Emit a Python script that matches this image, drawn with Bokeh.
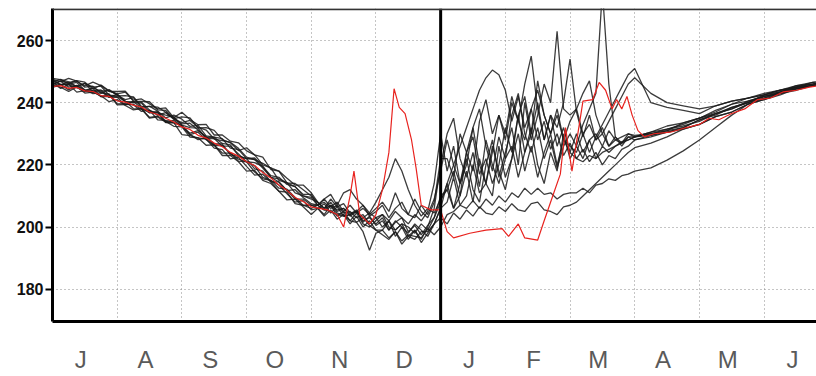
from bokeh.plotting import figure
from bokeh.models import FixedTicker, Span
from bokeh.embed import file_html
from bokeh.resources import INLINE

# ---------------- data (x in months since 1 July) ----------------
MONTH_LABELS = ["J", "A", "S", "O", "N", "D", "J", "F", "M", "A", "M", "J"]
Y_TICKS = [180, 200, 220, 240, 260]

XA = [0.0, 0.125, 0.25, 0.375, 0.5, 0.625, 0.75, 0.875, 1.0, 1.125, 1.25, 1.375,
      1.5, 1.625, 1.75, 1.875, 2.0, 2.125, 2.25, 2.375, 2.5, 2.625, 2.75, 2.875,
      3.0, 3.125, 3.25, 3.375, 3.5, 3.625, 3.75, 3.875, 4.0]
XB = [4.1, 4.2, 4.3, 4.4, 4.5, 4.6, 4.7, 4.8, 4.9, 5.0,
      5.1, 5.2, 5.3, 5.4, 5.5, 5.6, 5.7, 5.8, 5.9, 6.0,
      6.1, 6.2, 6.3, 6.4, 6.5, 6.6, 6.7, 6.8, 6.9, 7.0,
      7.1, 7.2, 7.3, 7.4, 7.5, 7.6, 7.7, 7.8, 7.9, 8.0,
      8.1, 8.2, 8.3, 8.4, 8.5, 8.6, 8.7, 8.8, 8.9, 9.0]
XC = [9.25, 9.5, 9.75, 10.0, 10.25, 10.5, 10.75, 11.0, 11.25, 11.5, 11.75, 12.0]

S1 = [246.0, 246.9, 245.0, 245.5, 243.6, 243.9, 244.1, 241.8, 241.7, 239.3, 240.4, 238.3,
      236.7, 237.1, 233.9, 234.3, 232.5, 230.2, 231.0, 229.1, 226.7, 226.7, 223.2, 222.7,
      222.0, 218.7, 218.0, 214.5, 214.5, 211.7, 209.0, 209.0, 207.0,
      207, 205.5, 207, 204.5, 204, 202, 201.5, 198.5, 192.5, 198,
      199, 196.5, 198.5, 195.5, 197.5, 197, 196.5, 199.5, 197.5, 200,
      204, 205, 207, 206, 208.5, 206, 209, 207, 210, 208,
      211, 209.5, 212.5, 210.5, 212.5, 210.5, 211, 209, 210.5, 211,
      211, 212.5, 211, 213.5, 214, 215.5, 215, 216.5, 217, 218,
      219, 221.5, 224.5, 228, 232, 236, 239.5, 241.5, 243, 244.5, 245.5, 246.5]
S2 = [247.5, 245.8, 246.5, 247.0, 245.0, 245.3, 243.0, 244.2, 242.4, 241.0, 241.6, 238.5,
      238.9, 237.3, 235.1, 236.0, 234.7, 232.4, 232.7, 229.3, 228.9, 228.4, 225.4, 224.9,
      222.0, 222.2, 219.5, 216.5, 216.0, 213.7, 213.0, 210.0, 209.0,
      208, 206, 207, 205.5, 206, 204, 205, 203, 204.5, 203,
      204, 202, 205, 203, 201, 204, 202, 205, 214, 230,
      218, 226, 214, 220, 232, 238, 226, 218, 229, 222,
      236, 243, 230, 224, 232, 222, 228, 219, 226, 230,
      226, 233, 238, 243, 276, 246, 229, 226, 229, 228,
      229, 230.5, 232, 234.5, 236, 238.5, 240, 242.5, 243.5, 245.5, 246, 247]
S3 = [244.9, 245.7, 245.9, 243.4, 243.9, 243.7, 242.0, 242.6, 239.3, 239.4, 239.5, 237.9,
      235.3, 235.7, 234.0, 232.4, 232.2, 228.9, 228.7, 228.3, 225.4, 224.9, 221.9, 222.4,
      219.5, 216.7, 217.0, 214.5, 211.5, 211.2, 207.5, 207.0, 206.0,
      207, 208, 206, 207, 204.5, 205, 203, 204, 201, 203,
      200, 202, 199, 201, 200, 198, 201, 199, 203, 210,
      212, 206, 214, 222, 212, 208, 220, 228, 216, 224,
      232, 220, 240, 228, 236, 246, 240, 263, 238, 236,
      238, 230, 233, 228, 230, 226, 228, 227, 229, 229,
      230, 231, 233.5, 235, 237, 239.5, 240.5, 242, 243.5, 245, 246.5, 247]
S4 = [247.8, 247.4, 246.1, 247.1, 246.6, 244.4, 245.7, 243.8, 242.8, 243.4, 240.5, 240.4,
      240.3, 237.7, 237.5, 234.9, 235.4, 235.1, 231.9, 232.0, 231.1, 228.1, 227.1, 224.6,
      225.5, 223.2, 220.0, 219.0, 218.0, 214.2, 214.0, 212.0, 210.0,
      208, 206, 208, 205, 206, 203.5, 205, 202, 203, 201,
      203, 199, 202, 200, 198, 201, 199, 197, 201, 206,
      208, 216, 207, 210, 220, 211, 214, 226, 218, 212,
      222, 236, 224, 230, 240, 228, 236, 232, 240, 254,
      237, 229, 236, 228, 232, 226, 229, 227, 230, 229,
      230.5, 231.5, 233, 235, 236.5, 238.5, 240, 242, 243, 244.5, 245.5, 246.5]
S5 = [245.7, 247.0, 246.2, 245.2, 246.2, 243.5, 243.8, 243.9, 242.6, 240.2, 240.3, 240.2,
      237.6, 236.0, 236.8, 234.7, 233.2, 233.4, 231.2, 228.8, 228.9, 226.9, 226.4, 222.9,
      222.0, 221.7, 219.0, 216.0, 215.5, 214.2, 211.0, 210.0, 209.5,
      207, 209, 206.5, 208, 205, 207, 204.5, 206, 204, 206,
      208, 205, 211, 206, 204, 209, 205, 203, 208, 222,
      222, 216, 230, 224, 218, 234, 241, 230, 236, 228,
      240, 234, 228, 238, 244, 236, 230, 236, 228, 226,
      224, 230, 224, 229, 233, 237, 241, 245, 249, 251,
      240, 238.5, 237.5, 236.5, 239, 240.5, 241.5, 242.5, 244, 245, 246, 247]
S6 = [245.6, 245.0, 243.6, 245.1, 243.1, 243.4, 242.2, 240.3, 241.0, 239.1, 237.7, 238.1,
      235.0, 235.4, 233.7, 233.6, 229.7, 229.4, 228.7, 226.3, 226.4, 223.0, 223.0, 221.0,
      218.0, 218.2, 215.0, 214.0, 211.5, 208.7, 209.0, 206.5, 204.0,
      206, 207.5, 204.5, 206.5, 203.5, 204, 205.5, 201.5, 203.5, 200.5,
      202, 199, 201.5, 203, 198.5, 200.5, 197.5, 200.5, 203, 208,
      214, 220, 226, 232, 238, 244, 248, 250.5, 249, 244,
      234, 242, 232, 238, 228, 234, 225, 230, 223, 227,
      222, 225, 221, 224, 220, 223, 222, 225, 226, 228,
      229.5, 231, 232, 234.5, 236.5, 238, 240.5, 242, 243, 245, 245.5, 246.5]
S7 = [247.5, 246.8, 247.8, 246.9, 245.4, 246.6, 245.5, 243.6, 243.6, 243.7, 240.8, 241.2,
      239.6, 238.0, 238.3, 235.2, 236.9, 234.6, 232.9, 233.0, 229.6, 229.6, 227.6, 227.1,
      224.5, 223.2, 222.5, 218.5, 218.0, 215.7, 213.5, 213.5, 211.0,
      208, 206, 209, 206.5, 207.5, 204.5, 205, 207, 203.5, 205,
      207, 203, 206, 208, 204, 203, 207, 204, 209, 218,
      228, 220, 214, 224, 232, 220, 214, 224, 236, 230,
      242, 234, 246, 255, 238, 228, 236, 226, 232, 224,
      230, 224, 228, 222, 226, 224, 226, 227, 228, 229,
      230.5, 232.5, 233.5, 235, 237.5, 239.5, 241.5, 242.5, 244, 245.5, 246.5, 247.5]
S8 = [246.8, 244.6, 245.8, 244.8, 243.8, 244.6, 241.9, 242.0, 241.9, 240.5, 238.1, 238.0,
      237.4, 236.8, 233.6, 233.5, 232.5, 229.7, 230.5, 228.1, 226.2, 226.2, 223.7, 221.2,
      221.0, 219.7, 216.0, 215.0, 212.5, 212.2, 209.5, 207.0, 207.0,
      206, 204, 207, 203.5, 205, 202, 204.5, 201, 200, 202,
      204, 200, 199, 201, 197, 199, 196, 200, 206, 220,
      230, 235, 222, 216, 224, 213, 228, 220, 214, 222,
      226, 216, 224, 232, 220, 214, 224, 218, 230, 222,
      226, 222, 228, 230, 226, 231, 228, 229, 230, 229.5,
      230, 231.5, 232.5, 234, 236.5, 238, 240, 241.5, 243.5, 244.5, 245.5, 246.5]
S9 = [246.7, 247.5, 246.7, 245.2, 246.2, 245.0, 245.3, 242.4, 242.2, 242.3, 241.9, 238.8,
      238.7, 238.6, 236.9, 234.8, 233.6, 234.3, 232.1, 231.2, 228.3, 227.8, 227.3, 225.3,
      222.5, 221.7, 220.5, 219.0, 215.0, 214.2, 213.0, 210.5, 210.5,
      207, 209, 210.5, 207, 211, 212, 209, 207, 204.5, 208,
      212, 216, 222, 218, 212, 207, 203.5, 206, 204.5, 209,
      212, 218, 210, 224, 229, 217, 222, 214, 220, 232,
      224, 236, 242, 230, 247, 236, 230, 238, 228, 234,
      238, 243, 247, 236, 230, 234, 238, 242, 246, 248,
      243, 240, 239, 238, 239, 240.5, 241.5, 243, 244, 245, 246, 247]
S10 = [245.6, 245.9, 244.1, 245.6, 244.1, 242.9, 243.2, 242.8, 239.6, 239.7, 239.3, 237.2,
       237.6, 234.5, 234.3, 233.7, 232.6, 229.8, 228.1, 228.7, 226.3, 223.8, 223.8, 221.8,
       221.0, 217.7, 215.5, 215.0, 213.5, 210.7, 208.0, 208.5, 205.5,
       206, 203.5, 205.5, 202.5, 204, 201, 203.5, 200, 202, 199,
       199, 202, 197, 200, 196, 199, 195, 198, 201, 206,
       214, 206, 210, 218, 208, 222, 214, 210, 226, 216,
       222, 230, 218, 226, 216, 224, 230, 220, 228, 224,
       222, 221, 223, 222, 224, 225, 226, 227.5, 228, 229,
       229.5, 230.5, 231.5, 233, 235.5, 237, 239.5, 241, 243, 244, 245.5, 246]
S11 = [247.0, 245.8, 246.0, 246.5, 244.0, 244.8, 243.6, 241.7, 242.8, 240.4, 240.0, 239.9,
       236.8, 236.7, 236.0, 235.4, 232.8, 232.0, 231.8, 228.4, 228.5, 226.0, 226.0, 223.5,
       221.0, 220.7, 219.5, 216.0, 214.5, 211.7, 212.0, 209.5, 207.5,
       207, 205.5, 205, 204, 203.5, 204, 201.5, 203, 200.5, 199,
       197.5, 196, 198.5, 194.5, 197, 196, 198.5, 198.5, 201, 203,
       201, 204.5, 202.5, 205.5, 203.5, 206.5, 204.5, 204, 206.5, 205,
       207.5, 205.5, 205, 207.5, 208, 205.5, 205, 204, 206.5, 207,
       208, 210, 212, 214, 216, 218, 220, 222, 224, 225.5,
       227, 229, 231.5, 233, 235.5, 237, 239.5, 241, 242.5, 244.5, 245.5, 246.5]
BLACK_SERIES = [S1, S2, S3, S4, S5, S6, S7, S8, S9, S10, S11]

RED_X = [0.0, 0.125, 0.25, 0.375, 0.5, 0.625, 0.75, 0.875, 1.0, 1.125, 1.25, 1.375,
         1.5, 1.625, 1.75, 1.875, 2.0, 2.125, 2.25, 2.375, 2.5, 2.625, 2.75, 2.875,
         3.0, 3.125, 3.25, 3.375, 3.5, 3.625, 3.75, 3.875, 4.0,
         4.25, 4.4, 4.5, 4.6, 4.66, 4.75, 4.9, 5.0, 5.1, 5.2, 5.28, 5.36, 5.45, 5.55, 5.62, 5.7,
         5.85, 6.0, 6.1, 6.2, 6.45, 6.7, 6.95, 7.05, 7.2, 7.3, 7.5, 7.6, 7.75, 7.85, 7.93, 8.03,
         8.2, 8.35, 8.45, 8.55, 8.65, 8.72, 8.8, 8.88, 8.96, 9.05, 9.15, 9.3, 9.55, 9.8, 10.0,
         10.15, 10.3, 10.5, 10.7, 10.9, 11.1, 11.3, 11.5, 11.7, 11.85, 12.0]
RED_Y = [245.2, 245.5, 244.6, 244.9, 243.8, 243.6, 242.3, 242.0, 240.6, 240.2, 239.2, 238.6,
         237.0, 236.2, 235.0, 233.8, 232.2, 231.4, 229.5, 228.6, 227.0, 225.8, 224.0, 222.8,
         221.0, 219.8, 217.5, 215.8, 213.5, 211.8, 209.5, 208.2, 206.5,
         205.5, 204, 200, 210, 218, 204, 201, 204, 212, 224, 244.5, 238.5, 236.5, 228, 219, 207,
         205.5, 205.5, 198.5, 196.5, 198, 199, 199.5, 197, 201, 196.5, 195.8, 202, 211, 217, 232, 218,
         240.5, 241, 246.5, 244, 238, 241, 238, 242, 236, 231, 229, 230, 230.5, 232, 233,
         235, 234.5, 236.5, 238, 241, 241.5, 243.5, 244, 245, 245.5, 246]

# ---------------- figure ----------------
p = figure(width=816, height=376, x_range=(0, 11.81), y_range=(169.6, 270.3),
           output_backend="svg", toolbar_location=None,
           min_border_left=52, min_border_right=0, min_border_top=8, min_border_bottom=55,
           background_fill_color="white", border_fill_color="white")
p.outline_line_color = None

x_black = XA + XB + XC
for s in BLACK_SERIES:
    p.line(x_black, s, line_color="#1a1a1a", line_width=1.3, line_alpha=0.85)
p.line(RED_X, RED_Y, line_color="#e8231f", line_width=1.2)

# grids
p.xgrid.ticker = FixedTicker(ticks=[1, 2, 3, 4, 5, 7, 8, 9, 10, 11])
p.ygrid.ticker = FixedTicker(ticks=Y_TICKS)
for g in (p.xgrid, p.ygrid):
    g.grid_line_color = "#8a8a8a"
    g.grid_line_dash = "1 3"
    g.grid_line_width = 1

# year boundary and top border
p.add_layout(Span(location=6, dimension="height", line_color="black", line_width=3))
p.add_layout(Span(location=270.05, dimension="width", line_color="#333333", line_width=2))

# y axis
p.yaxis.ticker = FixedTicker(ticks=Y_TICKS)
p.yaxis.axis_line_width = 3
p.yaxis.axis_line_color = "black"
p.yaxis.major_tick_in = 0
p.yaxis.major_tick_out = 7
p.yaxis.major_tick_line_width = 2
p.yaxis.minor_tick_line_color = None
p.yaxis.major_label_text_font = "Liberation Sans"
p.yaxis.major_label_text_font_style = "bold"
p.yaxis.major_label_text_font_size = "16px"
p.yaxis.major_label_text_color = "#111111"
p.yaxis.major_label_standoff = 2

# x axis with month letters centered in each month
label_pos = [i + 0.4375 for i in range(12)]
p.xaxis.ticker = FixedTicker(ticks=label_pos)
p.xaxis.major_label_overrides = {pos: lab for pos, lab in zip(label_pos, MONTH_LABELS)}
p.xaxis.axis_line_width = 3
p.xaxis.axis_line_color = "black"
p.xaxis.major_tick_line_color = None
p.xaxis.minor_tick_line_color = None
p.xaxis.major_label_text_font = "Liberation Sans"
p.xaxis.major_label_text_font_size = "24px"
p.xaxis.major_label_text_color = "#5a5a5a"
p.xaxis.major_label_standoff = 18

open("out.html", "w").write(file_html(p, INLINE))
